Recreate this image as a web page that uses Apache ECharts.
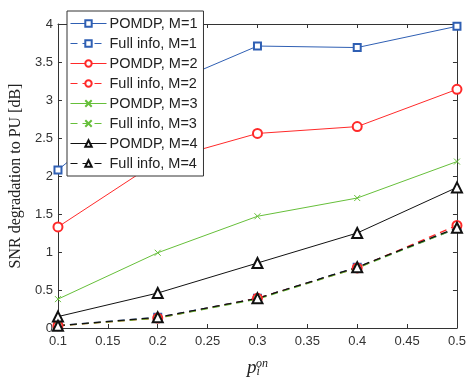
<!DOCTYPE html>
<html><head><meta charset="utf-8">
<script src="https://cdn.jsdelivr.net/npm/echarts@6/dist/echarts.min.js"></script>
<style>html,body{margin:0;padding:0;background:#fff}#c{width:469px;height:383px}</style>
</head><body><div id="c"></div>
<script>
const xValues = [0.1, 0.2, 0.3, 0.4, 0.5];
const pomdpM1 = [2.08, 3.15, 3.71, 3.69, 3.97];
const fullM1  = [0.03, 0.14, 0.39, 0.80, 1.31];
const pomdpM2 = [1.33, 2.19, 2.56, 2.65, 3.14];
const fullM2  = [0.03, 0.13, 0.39, 0.79, 1.35];
const pomdpM3 = [0.38, 0.99, 1.47, 1.71, 2.19];
const fullM3  = [0.03, 0.13, 0.38, 0.79, 1.31];
const pomdpM4 = [0.15, 0.46, 0.855, 1.25, 1.85];
const fullM4  = [0.03, 0.14, 0.39, 0.80, 1.32];
const seriesNames = ['POMDP, M=1','Full info, M=1','POMDP, M=2','Full info, M=2','POMDP, M=3','Full info, M=3','POMDP, M=4','Full info, M=4'];

const BLUE = '#2f5fb3', RED = '#ff2a2a', GREEN = '#66bf3a', BLACK = '#111111';
const AX = '#333333';
const crossPath = 'path://M0,0L10,10M10,0L0,10';

function pairs(arr){ return xValues.map((x,i)=>[x, arr[i]]); }
function mk(name, data, color, dashed, symbol, size){
  const isPath = symbol.indexOf('path://') === 0;
  return {
    name, type:'line', data: pairs(data), symbol, symbolSize: size,
    showAllSymbol: true, animation:false,
    lineStyle:{color, width: dashed ? 1.3 : 1, type: dashed ? [7,5] : 'solid'},
    itemStyle: isPath ? {color:'rgba(0,0,0,0)', borderColor: color, borderWidth: 1} : {color, borderColor: color, borderWidth: 1},
    emphasis:{disabled:true}
  };
}

const chart = echarts.init(document.getElementById('c'), null, {renderer:'canvas'});
const axisCommon = {
  type:'value', axisLine:{show:true, onZero:false, lineStyle:{color:AX, width:1}},
  axisTick:{show:true, inside:true, length:4, lineStyle:{color:AX}},
  splitLine:{show:false}
};
chart.setOption({
  animation:false,
  backgroundColor:'#fff',
  grid:{left:57, right:8, top:24, bottom:41, containLabel:false},
  legend:{
    orient:'vertical', left:67, top:11, data: seriesNames,
    itemWidth:36, itemHeight:8, itemGap:5,
    padding:[5,6,5,3], backgroundColor:'#fff', borderColor:AX, borderWidth:1,
    lineStyle:{width:1},
    textStyle:{fontFamily:'Liberation Sans, Arial, sans-serif', fontSize:14.5, color:'#222', padding:[0,0,0,-2]},
    selectedMode:false
  },
  xAxis:[
    Object.assign({}, axisCommon, {min:0.1, max:0.5, interval:0.05, position:'bottom',
      axisLabel:{color:AX, fontSize:13, fontFamily:'Liberation Sans, Arial, sans-serif', margin:7,
        formatter: v => String(+v.toFixed(2))},
      name:'{p|p}{sub|i}{sup|on}', nameLocation:'middle', nameGap:30,
      nameTextStyle:{rich:{
        p:{fontFamily:'Liberation Serif, serif', fontStyle:'italic', fontSize:19, color:'#222'},
        sub:{fontFamily:'Liberation Serif, serif', fontStyle:'italic', fontSize:12, color:'#222', verticalAlign:'bottom', padding:[8,0,0,0]},
        sup:{fontFamily:'Liberation Serif, serif', fontStyle:'italic', fontSize:12, color:'#222', verticalAlign:'top', padding:[0,0,8,-4]}
      }}
    }),
    Object.assign({}, axisCommon, {min:0.1, max:0.5, interval:0.05, position:'top', axisLabel:{show:false}})
  ],
  yAxis:[
    Object.assign({}, axisCommon, {min:0, max:4, interval:0.5, position:'left',
      axisLabel:{color:AX, fontSize:13, fontFamily:'Liberation Sans, Arial, sans-serif', margin:5},
      name:'SNR degradation to PU [dB]', nameLocation:'middle', nameGap:25,
      nameTextStyle:{fontFamily:'Liberation Serif, serif', fontSize:16, color:'#222'}
    }),
    Object.assign({}, axisCommon, {min:0, max:4, interval:0.5, position:'right', axisLabel:{show:false}})
  ],
  series:[
    mk(seriesNames[0], pomdpM1, BLUE, false, 'emptyRect', 7),
    mk(seriesNames[1], fullM1, BLUE, true, 'emptyRect', 7),
    mk(seriesNames[2], pomdpM2, RED, false, 'emptyCircle', 9),
    mk(seriesNames[3], fullM2, RED, true, 'emptyCircle', 9),
    mk(seriesNames[4], pomdpM3, GREEN, false, crossPath, 6),
    mk(seriesNames[5], fullM3, GREEN, true, crossPath, 6),
    mk(seriesNames[6], pomdpM4, BLACK, false, 'emptyTriangle', 10),
    mk(seriesNames[7], fullM4, BLACK, true, 'emptyTriangle', 10)
  ]
});
</script></body></html>
